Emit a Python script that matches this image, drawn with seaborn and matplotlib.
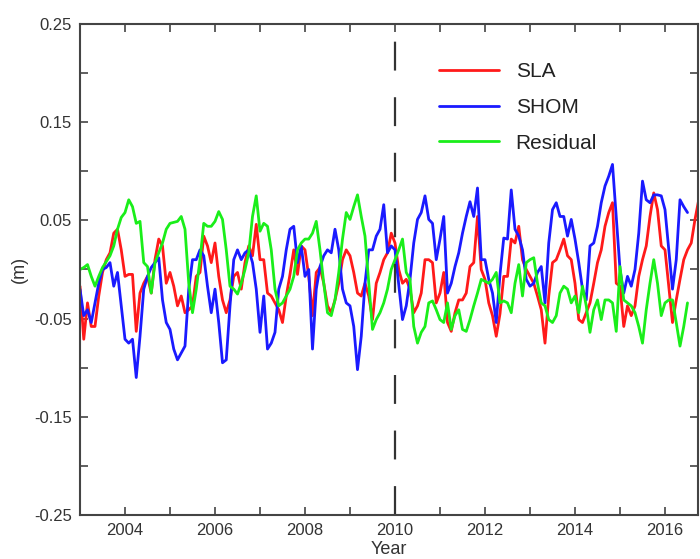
import numpy as np
import pandas as pd
import matplotlib
matplotlib.use("Agg")
import matplotlib.pyplot as plt
import seaborn as sns
from matplotlib.ticker import MultipleLocator, FuncFormatter

start_year = 2003.0

sla = [-0.017, -0.071, -0.034, -0.058, -0.058, -0.027, -0.003, 0.010, 0.017, 0.037,
       0.041, 0.020, -0.007, -0.005, -0.005, -0.063, -0.024, -0.014, -0.007, -0.024,
       0.010, 0.031, 0.024, -0.014, -0.003, -0.017, -0.037, -0.027, -0.044, -0.041,
       -0.037, -0.007, -0.003, 0.034, 0.024, 0.007, 0.027, -0.007, -0.031, -0.044,
       -0.031, -0.007, -0.003, -0.020, 0.007, 0.024, 0.014, 0.046, 0.010, 0.010,
       -0.024, -0.027, -0.034, -0.041, -0.054, -0.027, -0.005, 0.020, -0.005, 0.024,
       0.020, -0.007, -0.047, -0.003, 0.002, -0.014, -0.037, -0.044, -0.031, -0.014,
       0.010, 0.020, 0.014, -0.003, -0.024, -0.027, -0.014, -0.027, -0.051, -0.014,
       -0.003, 0.010, 0.017, 0.037, 0.027, 0.000, -0.014, -0.010, -0.020, -0.044,
       -0.037, -0.024, 0.010, 0.010, 0.007, -0.034, -0.024, -0.003, -0.054, -0.063,
       -0.044, -0.031, -0.031, -0.024, 0.003, 0.007, 0.054, 0.000, -0.010, -0.034,
       -0.047, -0.068, -0.045, -0.007, -0.007, 0.031, 0.027, 0.044, 0.010, 0.000,
       -0.007, -0.014, -0.027, -0.041, -0.075, -0.027, 0.007, 0.010, 0.020, 0.031,
       0.014, 0.010, -0.014, -0.051, -0.054, -0.044, -0.034, -0.014, 0.007, 0.020,
       0.044, 0.058, 0.068, -0.014, -0.017, -0.058, -0.037, -0.047, -0.037, -0.007,
       0.010, 0.024, 0.054, 0.078, 0.061, 0.024, 0.020, -0.017, -0.054, -0.031,
       -0.010, 0.010, 0.020, 0.027, 0.051, 0.071]

shom = [-0.020, -0.047, -0.041, -0.054, -0.034, -0.014, 0.000, 0.002, 0.007, -0.017,
        -0.003, -0.037, -0.071, -0.075, -0.071, -0.110, -0.068, -0.020, -0.007, 0.002,
        0.007, 0.012, -0.031, -0.054, -0.061, -0.081, -0.092, -0.085, -0.078, -0.020,
        0.010, 0.010, 0.020, 0.014, -0.017, -0.044, -0.020, -0.054, -0.095, -0.092,
        -0.037, 0.010, 0.020, 0.010, 0.017, 0.020, 0.007, -0.020, -0.064, -0.027,
        -0.081, -0.075, -0.064, -0.020, -0.007, 0.020, 0.041, 0.044, 0.007, 0.024,
        -0.007, 0.000, -0.081, -0.020, 0.003, 0.014, 0.020, 0.017, 0.041, 0.020,
        -0.020, -0.034, -0.037, -0.058, -0.102, -0.068, -0.014, 0.020, 0.020, 0.034,
        0.041, 0.066, 0.017, 0.024, 0.020, -0.015, -0.051, -0.037, -0.010, 0.027,
        0.051, 0.058, 0.075, 0.051, 0.047, 0.010, 0.031, 0.054, -0.024, -0.014,
        0.003, 0.017, 0.037, 0.054, 0.069, 0.054, 0.083, 0.010, 0.010, -0.010,
        -0.024, -0.054, -0.005, 0.032, 0.031, 0.081, 0.041, 0.034, 0.020, -0.010,
        -0.017, -0.014, -0.003, 0.003, -0.034, 0.027, 0.061, 0.068, 0.054, 0.054,
        0.034, 0.051, 0.031, 0.007, -0.020, -0.031, 0.024, 0.027, 0.044, 0.068,
        0.085, 0.095, 0.107, 0.054, 0.000, -0.024, -0.007, -0.017, 0.000, 0.037,
        0.090, 0.071, 0.068, 0.076, 0.076, 0.075, 0.061, 0.020, -0.020, 0.010,
        0.071, 0.064, 0.058]

residual = [0.000, 0.002, 0.005, -0.007, -0.017, -0.007, 0.002, 0.008, 0.014, 0.024,
            0.041, 0.053, 0.058, 0.071, 0.064, 0.047, 0.049, 0.007, 0.003, -0.024,
            0.007, 0.017, 0.027, 0.041, 0.047, 0.048, 0.049, 0.054, 0.041, -0.014,
            -0.044, -0.020, 0.010, 0.047, 0.044, 0.044, 0.049, 0.059, 0.051, 0.020,
            -0.017, -0.020, -0.025, -0.014, 0.000, 0.017, 0.054, 0.075, 0.039, 0.047,
            0.044, 0.020, -0.020, -0.037, -0.034, -0.027, -0.020, -0.007, 0.020, 0.027,
            0.031, 0.031, 0.037, 0.049, 0.020, -0.014, -0.044, -0.047, -0.031, -0.003,
            0.031, 0.058, 0.051, 0.064, 0.076, 0.054, 0.034, -0.014, -0.061, -0.051,
            -0.044, -0.034, -0.020, 0.000, 0.010, 0.020, 0.031, -0.003, -0.010, -0.058,
            -0.075, -0.064, -0.058, -0.034, -0.032, -0.041, -0.051, -0.054, -0.034, -0.061,
            -0.047, -0.041, -0.061, -0.063, -0.051, -0.037, -0.024, -0.010, -0.012, -0.014,
            -0.010, -0.003, -0.034, -0.032, -0.034, -0.044, -0.014, 0.005, -0.027, 0.007,
            0.010, 0.012, -0.014, -0.034, -0.037, -0.051, -0.054, -0.047, -0.024, -0.017,
            -0.020, -0.034, -0.027, -0.044, -0.017, -0.037, -0.064, -0.041, -0.031, -0.051,
            -0.031, -0.031, -0.034, -0.063, 0.003, -0.031, -0.034, -0.037, -0.044, -0.058,
            -0.075, -0.041, -0.014, 0.010, -0.014, -0.047, -0.034, -0.031, -0.031, -0.054,
            -0.078, -0.058, -0.034]

series_names = ["SLA", "SHOM", "Residual"]
series_values = [sla, shom, residual]
colors = ["#ff1a1a", "#1a1aff", "#1aee1a"]

frames = []
for name, vals in zip(series_names, series_values):
    t = start_year + np.arange(len(vals)) / 12.0
    frames.append(pd.DataFrame({"Year": t, "value": vals, "series": name}))
df = pd.concat(frames, ignore_index=True)

sns.set_style("white")
plt.rcParams["font.family"] = ["Liberation Sans", "DejaVu Sans"]

fig = plt.figure(figsize=(7.0, 5.59), dpi=100)
ax = fig.add_axes([80 / 700, 44 / 559, 618 / 700, 491 / 559])

sns.lineplot(data=df, x="Year", y="value", hue="series", hue_order=series_names,
             palette=colors, linewidth=2.0, ax=ax, legend=True)

ax.axvline(2010, color="#333333", linewidth=1.6, dashes=(13, 12))

ax.set_xlim(2003, 2003 + 618 / 45)
ax.set_ylim(-0.25, 0.25)

ax.xaxis.set_major_locator(MultipleLocator(1))
ax.yaxis.set_major_locator(MultipleLocator(0.05))
ax.xaxis.set_major_formatter(FuncFormatter(lambda v, p: f"{int(round(v))}" if int(round(v)) % 2 == 0 else ""))

def yfmt(v, p):
    k = int(round(v / 0.05))
    if k % 2 != 0:
        return f"{v:.2f}"
    return ""
ax.yaxis.set_major_formatter(FuncFormatter(yfmt))

ax.tick_params(direction="in", length=6, width=1.2, color="#444444",
               labelsize=12, labelcolor="#333333", top=True, right=True,
               left=True, bottom=True, pad=6)
for s in ax.spines.values():
    s.set_color("#444444")
    s.set_linewidth(1.5)

ax.set_xlabel("Year", fontsize=13, color="#333333", labelpad=2)
ax.set_ylabel("(m)", fontsize=13, color="#333333", labelpad=4)

leg = ax.legend(loc="upper left", bbox_to_anchor=(0.55, 0.96), frameon=False,
                fontsize=15, handlelength=2.9, labelspacing=0.8, handletextpad=0.8)
for txt in leg.get_texts():
    txt.set_color("#222222")
for line in leg.get_lines():
    line.set_linewidth(2.0)

fig.savefig("out.png", dpi=100)
